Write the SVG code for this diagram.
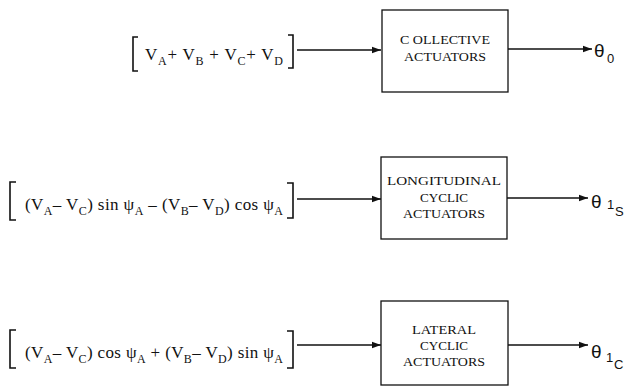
<svg xmlns="http://www.w3.org/2000/svg" width="628" height="387" viewBox="0 0 628 387">
<style>
.box{fill:#fff;stroke:#111;stroke-width:1.3}
.lbl{font-family:"Liberation Serif",serif;font-size:13.5px;fill:#111;text-anchor:middle}
.eq{font-family:"Liberation Serif",serif;font-size:17px;fill:#111}
.s{font-size:12px}
.th{font-family:"Liberation Sans",sans-serif;font-size:19px;fill:#111}
.ths{font-family:"Liberation Sans",sans-serif;font-size:13px;fill:#111}
.br{fill:none;stroke:#111;stroke-width:1.6}
.ln{stroke:#111;stroke-width:1.4;fill:none}
</style>
<defs>
<marker id="ah" markerWidth="10" markerHeight="8" refX="9" refY="4" orient="auto" markerUnits="userSpaceOnUse">
<path d="M0,0.8 L9,4 L0,7.2 Z" fill="#111"/>
</marker>
</defs>
<g id="connectors">
<line class="ln" x1="297" y1="50" x2="381" y2="50" marker-end="url(#ah)"/>
<line class="ln" x1="508" y1="49" x2="592" y2="49" marker-end="url(#ah)"/>
<line class="ln" x1="297" y1="199" x2="381" y2="199" marker-end="url(#ah)"/>
<line class="ln" x1="507" y1="198" x2="588" y2="198" marker-end="url(#ah)"/>
<line class="ln" x1="297" y1="345" x2="381" y2="345" marker-end="url(#ah)"/>
<line class="ln" x1="508" y1="345" x2="588" y2="345" marker-end="url(#ah)"/>
</g>
<g id="input1">
<path class="br" d="M138,37 H133 V71 H138"/>
<path class="br" d="M288,35 H293 V68 H288"/>
<text class="eq" x="145" y="60" textLength="138" lengthAdjust="spacing">V<tspan class="s" dy="5">A</tspan><tspan dy="-5">+ V</tspan><tspan class="s" dy="5">B</tspan><tspan dy="-5"> + V</tspan><tspan class="s" dy="5">C</tspan><tspan dy="-5">+ V</tspan><tspan class="s" dy="5">D</tspan></text>
</g>
<g id="input2">
<path class="br" d="M16,182 H10 V220 H16"/>
<path class="br" d="M287,183 H293 V218 H287"/>
<text class="eq" x="25" y="210" textLength="258" lengthAdjust="spacing">(V<tspan class="s" dy="5">A</tspan><tspan dy="-5">– V</tspan><tspan class="s" dy="5">C</tspan><tspan dy="-5">) sin ψ</tspan><tspan class="s" dy="5">A</tspan><tspan dy="-5"> – (V</tspan><tspan class="s" dy="5">B</tspan><tspan dy="-5">– V</tspan><tspan class="s" dy="5">D</tspan><tspan dy="-5">) cos ψ</tspan><tspan class="s" dy="5">A</tspan></text>
</g>
<g id="input3">
<path class="br" d="M16,330 H10 V368 H16"/>
<path class="br" d="M287,331 H293 V368 H287"/>
<text class="eq" x="25" y="358" textLength="258" lengthAdjust="spacing">(V<tspan class="s" dy="5">A</tspan><tspan dy="-5">– V</tspan><tspan class="s" dy="5">C</tspan><tspan dy="-5">) cos ψ</tspan><tspan class="s" dy="5">A</tspan><tspan dy="-5"> + (V</tspan><tspan class="s" dy="5">B</tspan><tspan dy="-5">– V</tspan><tspan class="s" dy="5">D</tspan><tspan dy="-5">) sin ψ</tspan><tspan class="s" dy="5">A</tspan></text>
</g>
<g id="collective">
<rect class="box" x="382" y="10" width="126" height="82"/>
<text class="lbl" x="445" y="44" textLength="90" lengthAdjust="spacingAndGlyphs">C OLLECTIVE</text>
<text class="lbl" x="445" y="61" textLength="82" lengthAdjust="spacingAndGlyphs">ACTUATORS</text>
</g>
<g id="longitudinal">
<rect class="box" x="381" y="157" width="126" height="82"/>
<text class="lbl" x="444" y="185" textLength="114" lengthAdjust="spacingAndGlyphs">LONGITUDINAL</text>
<text class="lbl" x="444" y="202" textLength="48" lengthAdjust="spacingAndGlyphs">CYCLIC</text>
<text class="lbl" x="444" y="218" textLength="82" lengthAdjust="spacingAndGlyphs">ACTUATORS</text>
</g>
<g id="lateral">
<rect class="box" x="381" y="301" width="127" height="84"/>
<text class="lbl" x="444" y="334" textLength="64" lengthAdjust="spacingAndGlyphs">LATERAL</text>
<text class="lbl" x="444" y="350" textLength="48" lengthAdjust="spacingAndGlyphs">CYCLIC</text>
<text class="lbl" x="444" y="366" textLength="82" lengthAdjust="spacingAndGlyphs">ACTUATORS</text>
</g>
<g id="out1">
<text class="th" x="594" y="57">θ</text>
<text class="ths" x="607" y="63">0</text>
</g>
<g id="out2">
<text class="th" x="591" y="208">θ</text>
<text class="ths" x="607" y="209">1</text>
<text class="ths" x="615" y="216">S</text>
</g>
<g id="out3">
<text class="th" x="591" y="358">θ</text>
<text class="ths" x="606" y="362">1</text>
<text class="ths" x="614" y="369">C</text>
</g>
</svg>
